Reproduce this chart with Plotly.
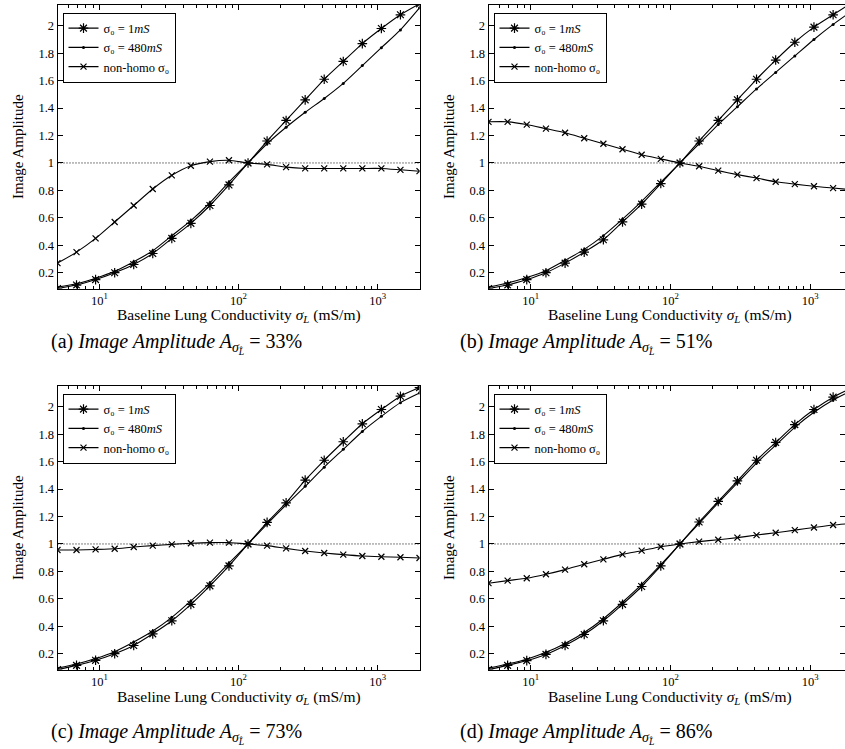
import math
import plotly.graph_objects as go

# ---------------- data ----------------
X_COND = [5.0, 6.85, 9.39, 12.88, 17.65, 24.19, 33.16, 45.45, 62.30, 85.40,
          117.1, 160.5, 219.9, 301.5, 413.2, 566.4, 776.4, 1064.0, 1459.0, 2000.0]

A_1MS = [0.085, 0.11, 0.15, 0.20, 0.26, 0.34, 0.45, 0.56, 0.69, 0.84,
         1.00, 1.16, 1.31, 1.46, 1.61, 1.74, 1.87, 1.98, 2.08, 2.16]
A_480 = [0.095, 0.12, 0.16, 0.21, 0.28, 0.36, 0.47, 0.58, 0.71, 0.86,
         1.00, 1.14, 1.26, 1.37, 1.47, 1.58, 1.71, 1.84, 1.97, 2.13]
A_NH = [0.27, 0.35, 0.45, 0.57, 0.69, 0.81, 0.91, 0.98, 1.01, 1.02,
        1.00, 0.99, 0.97, 0.96, 0.96, 0.96, 0.96, 0.96, 0.95, 0.94]

B_1MS = [0.085, 0.11, 0.15, 0.20, 0.27, 0.35, 0.44, 0.57, 0.70, 0.85,
         1.00, 1.16, 1.31, 1.46, 1.61, 1.75, 1.88, 1.99, 2.08, 2.17]
B_480 = [0.095, 0.125, 0.165, 0.215, 0.29, 0.37, 0.47, 0.59, 0.72, 0.86,
         1.00, 1.14, 1.28, 1.41, 1.54, 1.66, 1.78, 1.90, 2.01, 2.11]
B_NH = [1.30, 1.30, 1.28, 1.25, 1.22, 1.18, 1.14, 1.10, 1.06, 1.03,
        1.00, 0.976, 0.944, 0.915, 0.89, 0.863, 0.846, 0.83, 0.817, 0.805]

C_1MS = [0.085, 0.115, 0.152, 0.20, 0.26, 0.345, 0.44, 0.56, 0.695, 0.84,
         1.00, 1.157, 1.30, 1.465, 1.61, 1.745, 1.876, 1.98, 2.077, 2.14]
C_480 = [0.095, 0.125, 0.165, 0.215, 0.285, 0.365, 0.465, 0.585, 0.715, 0.86,
         1.00, 1.145, 1.285, 1.42, 1.56, 1.69, 1.82, 1.93, 2.03, 2.10]
C_NH = [0.956, 0.956, 0.96, 0.965, 0.978, 0.988, 0.997, 1.005, 1.01, 1.01,
        1.00, 0.988, 0.968, 0.949, 0.934, 0.922, 0.912, 0.907, 0.903, 0.898]

D_1MS = [0.085, 0.115, 0.15, 0.195, 0.26, 0.34, 0.44, 0.56, 0.69, 0.84,
         1.00, 1.16, 1.31, 1.46, 1.61, 1.74, 1.87, 1.98, 2.07, 2.14]
D_480 = [0.095, 0.125, 0.16, 0.21, 0.275, 0.355, 0.455, 0.575, 0.705, 0.85,
         1.00, 1.15, 1.30, 1.445, 1.59, 1.72, 1.85, 1.96, 2.05, 2.12]
D_NH = [0.714, 0.733, 0.75, 0.779, 0.813, 0.852, 0.888, 0.924, 0.951, 0.98,
        1.00, 1.017, 1.031, 1.046, 1.065, 1.082, 1.101, 1.12, 1.138, 1.15]

REF_LEVEL = 1.0
PANEL_LABELS = ["(a)", "(b)", "(c)", "(d)"]
PANEL_PCT = ["33%", "51%", "73%", "86%"]
SERIES_NAMES = ["σ₀ = 1<i>mS</i>", "σ₀ = 480<i>mS</i>", "non-homo σ₀"]
Y_TICKS = [0.2, 0.4, 0.6, 0.8, 1, 1.2, 1.4, 1.6, 1.8, 2]
X_TICKS = [10, 100, 1000]
X_TICKTEXT = ["10<sup>1</sup>", "10<sup>2</sup>", "10<sup>3</sup>"]
X_MINOR = [v * m for v in [1, 10, 100, 1000] for m in range(2, 10)]
X_TITLE = "Baseline Lung Conductivity <i>σ<sub>L</sub></i> (mS/m)"
Y_TITLE = "Image Amplitude"

# ---------------- layout ----------------
W, H = 845, 749
FONT = "Liberation Serif"

def px_x(p):
    return p / W

def px_y(p):
    return 1 - p / H

panels = [
    dict(data=(A_1MS, A_480, A_NH), x0=57.5, x1=419.5, xf=419.5, y0=4.5, y1=288.5,
         xr=[math.log10(5), math.log10(2000)], xt=316, cap=(176, 344)),
    dict(data=(B_1MS, B_480, B_NH), x0=488.5, x1=845, xf=850.5, y0=4.5, y1=288.5,
         xr=[math.log10(5), 3.249], xt=316, cap=(586, 344)),
    dict(data=(C_1MS, C_480, C_NH), x0=57.5, x1=419.5, xf=419.5, y0=385.5, y1=669.5,
         xr=[math.log10(5), math.log10(2000)], xt=697, cap=(176, 733)),
    dict(data=(D_1MS, D_480, D_NH), x0=488.5, x1=845, xf=850.5, y0=385.5, y1=669.5,
         xr=[math.log10(5), 3.249], xt=697, cap=(586, 733)),
]

fig = go.Figure()
layout = dict(width=W, height=H, margin=dict(l=0, r=0, t=0, b=0, autoexpand=False),
              paper_bgcolor="white", plot_bgcolor="white",
              font=dict(family=FONT, color="black", size=12),
              showlegend=True, shapes=[], annotations=[])

styles = [
    dict(symbol="asterisk-open", size=8, line=dict(width=1.2, color="black")),
    dict(symbol="circle", size=3, line=dict(width=0)),
    dict(symbol="x-thin-open", size=6, line=dict(width=1.2, color="black")),
]

for i, p in enumerate(panels):
    sfx = "" if i == 0 else str(i + 1)
    xa, ya = "x" + sfx, "y" + sfx
    leg = "legend" + sfx
    for k, (vals, name) in enumerate(zip(p["data"], SERIES_NAMES)):
        fig.add_trace(go.Scatter(
            x=X_COND, y=vals, name=name, mode="lines+markers",
            line=dict(color="black", width=1.1, shape="spline", smoothing=0.6),
            marker=dict(color="black", **styles[k]),
            xaxis=xa, yaxis=ya, legend=leg, cliponaxis=True,
        ))
    layout["xaxis" + sfx] = dict(
        type="log", range=p["xr"], domain=[px_x(p["x0"]), px_x(p["x1"])],
        anchor=ya, showline=True, linecolor="black", linewidth=1, mirror="ticks",
        ticks="inside", ticklen=5, tickcolor="black",
        tickvals=X_TICKS, ticktext=X_TICKTEXT, automargin=False,
        showgrid=False, zeroline=False, tickfont=dict(size=12.5, family=FONT),
        minor=dict(ticks="inside", ticklen=3, tickcolor="black", showgrid=False, tickvals=X_MINOR),
    )
    layout["yaxis" + sfx] = dict(
        range=[0.085, 2.155], domain=[px_y(p["y1"]), px_y(p["y0"])],
        anchor=xa, showline=True, linecolor="black", linewidth=1, mirror="ticks",
        ticks="inside", ticklen=5, tickcolor="black", tickvals=Y_TICKS, automargin=False,
        showgrid=False, zeroline=False, tickfont=dict(size=12.5, family=FONT),
    )
    layout[leg] = dict(
        x=px_x(p["x0"] + 5), y=px_y(p["y0"] + 8), xanchor="left", yanchor="top",
        bgcolor="white", bordercolor="black", borderwidth=1,
        font=dict(size=12.5, family=FONT), tracegroupgap=0, itemwidth=30,
    )
    layout["shapes"].append(dict(
        type="line", xref=xa + " domain", yref=ya, x0=0, x1=1, y0=REF_LEVEL, y1=REF_LEVEL,
        line=dict(color="black", width=1, dash="1px,2px"), layer="below"))
    # axis titles
    layout["annotations"].append(dict(
        xref="paper", yref="paper", x=px_x((p["x0"] + p["xf"]) / 2), y=px_y(p["xt"]),
        xanchor="center", yanchor="middle", showarrow=False,
        font=dict(size=15.5, family=FONT), text=X_TITLE))
    layout["annotations"].append(dict(
        xref="paper", yref="paper", x=px_x(p["x0"] - 40), y=px_y((p["y0"] + p["y1"]) / 2),
        xanchor="center", yanchor="middle", showarrow=False, textangle=-90,
        font=dict(size=15, family=FONT), text=Y_TITLE))
    # caption
    cx, cy = p["cap"]
    layout["annotations"].append(dict(
        xref="paper", yref="paper", x=px_x(cx), y=px_y(cy), xanchor="center", yanchor="middle",
        showarrow=False, font=dict(size=20, family=FONT),
        text=PANEL_LABELS[i] + " <i>Image Amplitude A</i><sub><i>σ</i><sub><i>L̂</i></sub></sub> = " + PANEL_PCT[i]))

fig.update_layout(**layout)
fig.write_html("out.html", config={"displayModeBar": False},
               post_script="document.body.style.margin='0';document.body.style.overflow='hidden';")
